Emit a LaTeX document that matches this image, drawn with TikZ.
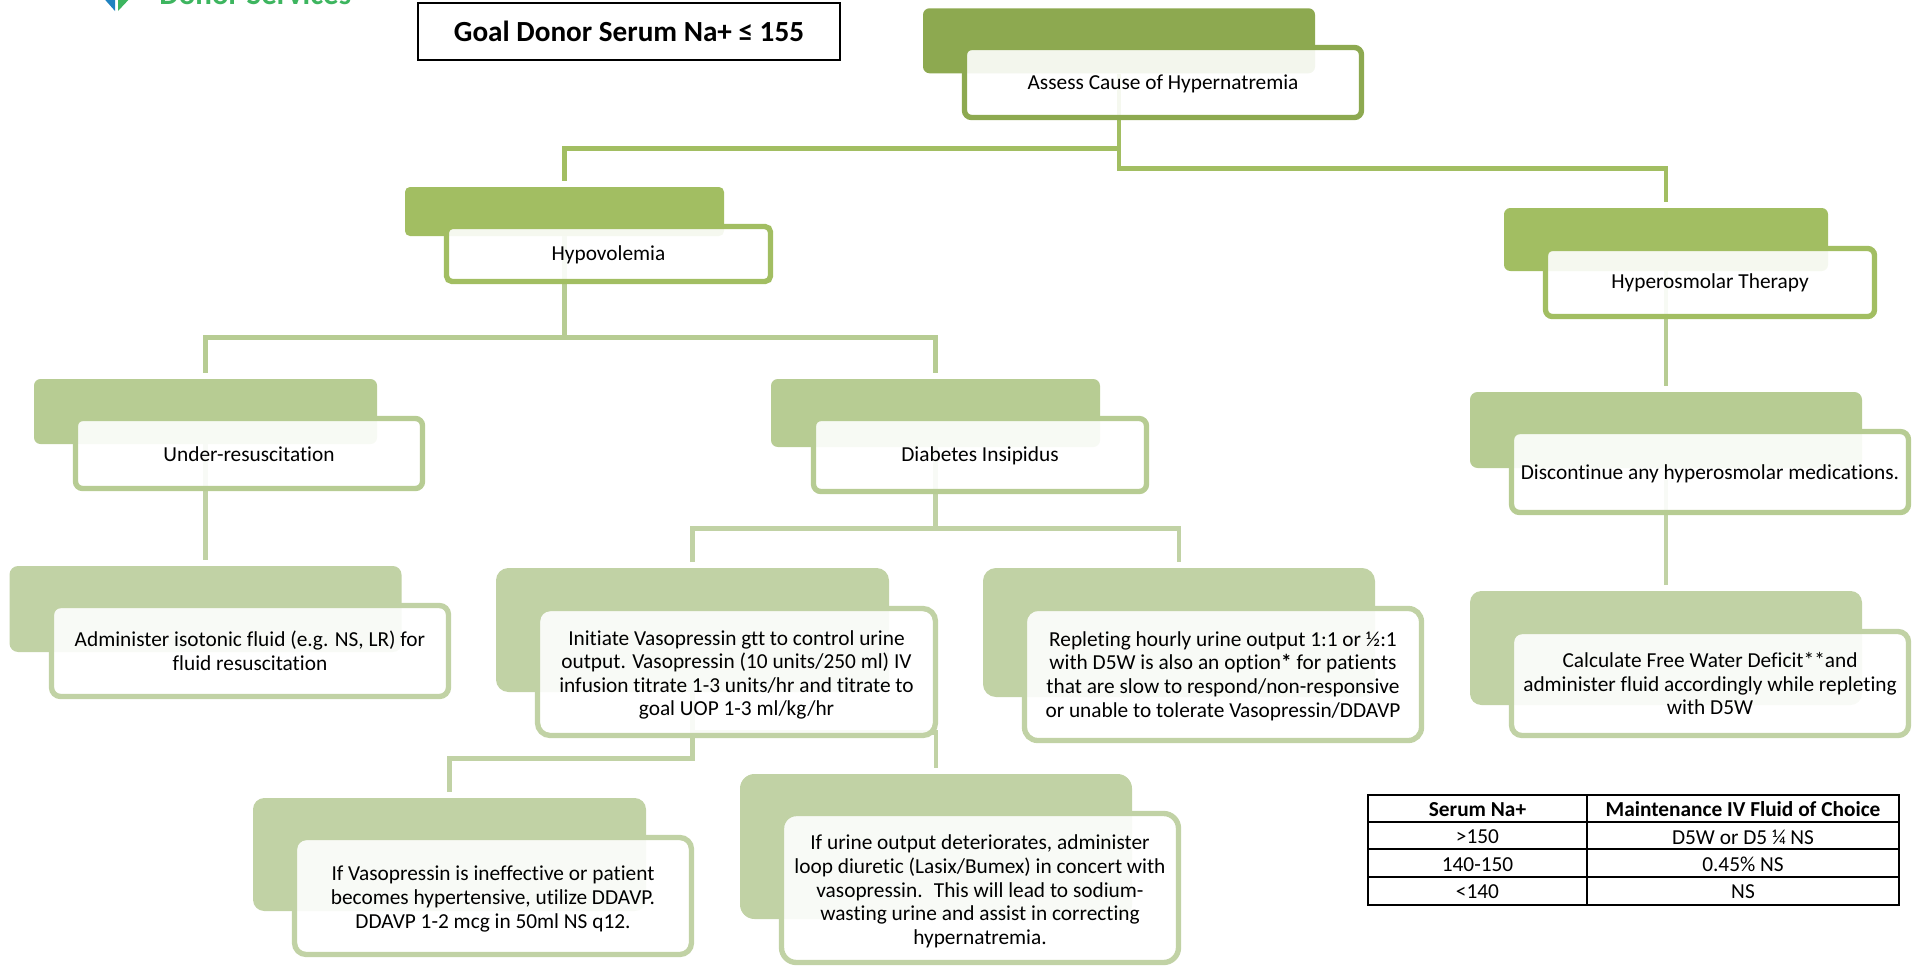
\documentclass[tikz,border=0pt]{standalone}
\usepackage{fontspec}
\setmainfont{Carlito}[Ligatures={NoCommon,TeX}]
\usetikzlibrary{positioning}
\definecolor{rootgreen}{HTML}{8DA950}
\definecolor{secondgreen}{HTML}{A2BE62}
\definecolor{thirdgreen}{HTML}{B7CC93}
\definecolor{fourthgreen}{HTML}{C1D2A5}
\definecolor{logoblue}{HTML}{1F82C0}
\definecolor{logogreen}{HTML}{3DB55F}
\newcommand*{\xMax}{1917}
\newcommand*{\yMax}{965}
\tikzset{
	boxsize/.style 2 args={minimum width=#1*0.75pt,minimum height=#2*0.75pt,rounded corners=#2*0.075pt},
	headbox/.style={fill=#1,inner sep=0pt},
	textbox/.style={draw=#1,line width=4pt,fill=white,fill opacity=0.9,text opacity=1,inner sep=0pt,align=center,font=\fontsize{16pt}{17.7pt}\selectfont},
	textdrop/.style={execute at begin node={\rule{0pt}{#1}}},
	link/.style={draw=#1,line width=3.5pt,shorten >=4pt},
	cell/.style={inner sep=0pt,font=\fontsize{16pt}{17.6pt}\selectfont},
}
\begin{document}
\begin{tikzpicture}[x=0.75pt,y=-0.75pt]
	\useasboundingbox (0,0) rectangle (\xMax,\yMax);

	% logo, cut off by the top of the page
	\begin{scope}
		\clip (0,0) rectangle (\xMax,\yMax);
		\fill[logoblue] (100,-6) -- (115,-6) -- (115,11) -- cycle;
		\fill[logogreen] (118,-6) -- (134,-6) -- (118,11) -- cycle;
		\node[anchor=base west,inner sep=0pt,text=logogreen,font=\fontsize{23.2pt}{23.2pt}\selectfont\bfseries] (logo) at (159,4.5) {Donor Services};
	\end{scope}

	\node[draw,line width=1.5pt,minimum width=316pt,minimum height=43pt,inner sep=0pt,font=\fontsize{21.9pt}{24pt}\selectfont\bfseries] (goal) at (629,31.5) {Goal Donor Serum Na+ ≤ 155};

	% the coloured boxes behind
	\node[headbox=rootgreen,boxsize={392}{65}] (root) at (1119,40.75) {};
	\node[headbox=secondgreen,boxsize={319}{49}] (hypo) at (564.5,211.5) {};
	\node[headbox=secondgreen,boxsize={324}{63}] (hyperos) at (1666,239.5) {};
	\node[headbox=thirdgreen,boxsize={343}{65}] (under) at (205.5,411.5) {};
	\node[headbox=thirdgreen,boxsize={329}{68}] (diabetes) at (935.5,413) {};
	\node[headbox=thirdgreen,boxsize={392}{76}] (stopmeds) at (1666,430) {};
	\node[headbox=fourthgreen,boxsize={392}{86}] (isotonic) at (205.5,609) {};
	\node[headbox=fourthgreen,boxsize={393}{124}] (vaso) at (692.5,630) {};
	\node[headbox=fourthgreen,boxsize={392}{129}] (replete) at (1179,632.5) {};
	\node[headbox=fourthgreen,boxsize={392}{114}] (deficit) at (1666,648) {};
	\node[headbox=fourthgreen,boxsize={393}{113}] (ddavp) at (449.5,854.5) {};
	\node[headbox=fourthgreen,boxsize={392}{145}] (diuretic) at (936,846.5) {};

	% connectors
	\draw[link=secondgreen] (root.south) -- ++(0,75) -| (hypo.north);
	\draw[link=secondgreen] (root.south) -- ++(0,95) -| (hyperos.north);
	\draw[link=thirdgreen] (hypo.south) -- ++(0,101) -| (under.north);
	\draw[link=thirdgreen] (hypo.south) -- ++(0,101) -| (diabetes.north);
	\draw[link=fourthgreen] (under.south) -- (isotonic.north);
	\draw[link=fourthgreen] (diabetes.south) -- ++(0,81) -| (vaso.north);
	\draw[link=fourthgreen] (diabetes.south) -- ++(0,81) -| (replete.north);
	\draw[link=fourthgreen] (vaso.south) -- ++(0,66) -| (ddavp.north);
	\draw[link=fourthgreen] (vaso.south) -- ++(0,40) -| (diuretic.north);
	\draw[link=thirdgreen] (hyperos.south) -- (stopmeds.north);
	\draw[link=fourthgreen] (stopmeds.south) -- (deficit.north);

	% the white boxes with the text
	\node[textbox=rootgreen,textdrop=13.5pt,boxsize={397}{70}] (rootbox) at (1163,82.5) {Assess Cause of Hypernatremia};
	\node[textbox=secondgreen,textdrop=12.5pt,boxsize={324}{55}] (hypobox) at (608.5,254) {Hypovolemia};
	\node[textbox=secondgreen,boxsize={329}{68}] (hyperosbox) at (1710,282.5) {Hyperosmolar Therapy};
	\node[textbox=thirdgreen,textdrop=12pt,boxsize={347}{70}] (underbox) at (249,453.5) {Under-resuscitation};
	\node[textbox=thirdgreen,textdrop=12.5pt,boxsize={333}{73}] (diabetesbox) at (980,455) {Diabetes Insipidus};
	\node[textbox=thirdgreen,textdrop=14pt,boxsize={397}{81}] (stopmedsbox) at (1710,472) {Discontinue any hyperosmolar medications.};
	\node[textbox=fourthgreen,boxsize={397}{91}] (isotonicbox) at (250,651) {Administer isotonic fluid (e.g. NS, LR) for\\fluid resuscitation};
	\node[textbox=fourthgreen,textdrop=68.5pt,boxsize={398}{127}] (vasobox) at (736.5,672) {Initiate Vasopressin gtt to control urine\\output. Vasopressin (10 units/250 ml) IV\\infusion titrate 1-3 units/hr and titrate to\\goal UOP 1-3 ml/kg/hr};
	\node[textbox=fourthgreen,textdrop=66.6pt,boxsize={397}{132}] (repletebox) at (1223,674.5) {Repleting hourly urine output 1:1 or ½:1\\with D5W is also an option\textbf{*} for patients\\that are slow to respond/non-responsive\\or unable to tolerate Vasopressin/DDAVP};
	\node[textbox=fourthgreen,boxsize={397}{104}] (deficitbox) at (1710,683.5) {Calculate Free Water Deficit**and\\administer fluid accordingly while repleting\\with D5W};
	\node[textbox=fourthgreen,textdrop=50.8pt,boxsize={397}{117}] (ddavpbox) at (493,896) {If Vasopressin is ineffective or patient\\becomes hypertensive, utilize DDAVP.\\DDAVP 1-2 mcg in 50ml NS q12.};
	\node[textbox=fourthgreen,textdrop=87pt,boxsize={397}{149}] (diureticbox) at (980,888) {If urine output deteriorates, administer\\loop diuretic (Lasix/Bumex) in concert with\\vasopressin.~ This will lead to sodium-\\wasting urine and assist in correcting\\hypernatremia.};

	% fluid table
	\draw[line width=1.5pt] (1368,795) rectangle (1899,905);
	\draw[line width=1.1pt] (1587,795) -- (1587,905);
	\foreach \i in {822,849,877} {
		\draw[line width=1.1pt] (1368,\i) -- (1899,\i);
	}
	\node[cell,font=\fontsize{16pt}{17.6pt}\selectfont\bfseries] (nahead) at (1477.5,809.5) {Serum Na+};
	\node[cell,font=\fontsize{16pt}{17.6pt}\selectfont\bfseries] (fluidhead) at (1743,809.5) {Maintenance IV Fluid of Choice};
	\node[cell] (nahigh) at (1477.5,837) {>150};
	\node[cell] (fluidhigh) at (1743,837) {D5W or D5 ¼ NS};
	\node[cell] (namid) at (1477.5,864.5) {140-150};
	\node[cell] (fluidmid) at (1743,864.5) {0.45\% NS};
	\node[cell] (nalow) at (1477.5,892) {<140};
	\node[cell] (fluidlow) at (1743,892) {NS};
\end{tikzpicture}
\end{document}
